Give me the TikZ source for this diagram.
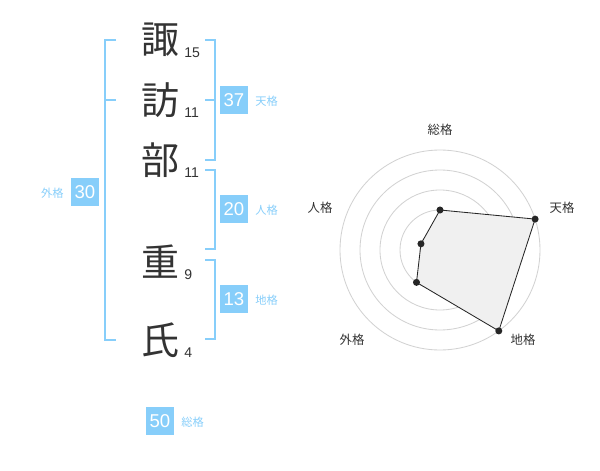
\documentclass[tikz,border=0pt]{standalone}
\usepackage{fontspec}
\setmainfont{Liberation Sans}
\newfontfamily\jpfont{Noto Sans CJK JP}
\usepackage{tikz}
\usetikzlibrary{positioning}
\definecolor{kakuBlue}{RGB}{135,206,250}
\definecolor{inkGray}{RGB}{51,51,51}
\tikzset{
  kanji/.style={font=\jpfont\fontsize{27}{27}\selectfont, text=inkGray, inner sep=0pt},
  strokenum/.style={font=\fontsize{10}{10}\selectfont, text=inkGray, inner sep=0pt, anchor=base west},
  bracketln/.style={kakuBlue, line width=1.4pt},
  scorebox/.style={fill=kakuBlue, text=white, font=\fontsize{13.2}{13.2}\selectfont,
    minimum size=0.7cm, inner sep=0pt},
  kakulabel/.style={text=kakuBlue, font=\jpfont\fontsize{8}{8}\selectfont, inner sep=0pt},
  ringln/.style={gray!35, line width=0.6pt},
  radarln/.style={draw=black!85, fill=gray!12, line width=0.6pt, line join=round},
  axislabel/.style={text=inkGray, font=\jpfont\fontsize{8.8}{8.8}\selectfont, inner sep=0pt},
}
\newcommand{\radardot}[2]{%
  \fill[#1] (#2) circle (2.5pt);
}

\begin{document}
\begin{tikzpicture}[x=0.025cm, y=0.025cm]
    \useasboundingbox (0,0) rectangle (600,470);
    % name characters and stroke counts
    \foreach \name/\ch/\yc/\n in {c1/諏/430/15, c2/訪/370/11, c3/部/310/11, c4/重/208/9, c5/氏/130/4}{
      \node[kanji] (\name) at (160,\yc) {\ch};
      \node[strokenum] (\name n) at (184,\yc-17) {\n};
    }
    % brackets
    \draw[bracketln] (116,430) -- (105,430) -- (105,130) -- (116,130);
    \draw[bracketln] (105,370) -- (116,370);
    \draw[bracketln] (205,430) -- (215,430) -- (215,310) -- (205,310);
    \draw[bracketln] (205,370) -- (215,370);
    \draw[bracketln] (205,300) -- (215,300) -- (215,221) -- (205,221);
    \draw[bracketln] (205,210) -- (215,210) -- (215,131) -- (205,131);
    % scores
    \node[scorebox] (gai) at (85,278) {30};
    \node[kakulabel, left=0.17cm of gai, yshift=-1pt] (gaiL) {外格};
    \node[scorebox] (ten) at (234,370) {37};
    \node[kakulabel, right=0.17cm of ten, yshift=-1pt] (tenL) {天格};
    \node[scorebox] (jin) at (234,261) {20};
    \node[kakulabel, right=0.17cm of jin, yshift=-1pt] (jinL) {人格};
    \node[scorebox] (chi) at (234,171) {13};
    \node[kakulabel, right=0.17cm of chi, yshift=-1pt] (chiL) {地格};
    \node[scorebox] (sou) at (160,49) {50};
    \node[kakulabel, right=0.17cm of sou, yshift=-1pt] (souL) {総格};
    % radar chart
    \begin{scope}[shift={(440,220)}]
      \foreach \r in {20,40,60,80,100}{
        \draw[ringln] (0,0) circle (\r);
      }
      \fill[gray!40] (0,0) circle (2.2pt);
      \coordinate (p1) at (90:40);
      \coordinate (p2) at (18:100);
      \coordinate (p3) at (-54:100);
      \coordinate (p4) at (234:40);
      \coordinate (p5) at (162:20);
      \draw[radarln] (p1) -- (p2) -- (p3) -- (p4) -- (p5) -- cycle;
      \foreach \p in {p1,p2,p3,p4,p5}{
        \radardot{black!85}{\p}
      }
      \node[axislabel] (a1) at (0,120) {総格};
      \node[axislabel] (a2) at (122,42) {天格};
      \node[axislabel] (a3) at (83,-90) {地格};
      \node[axislabel] (a4) at (-88,-90) {外格};
      \node[axislabel] (a5) at (-120,42) {人格};
    \end{scope}
  \end{tikzpicture}
\end{document}
